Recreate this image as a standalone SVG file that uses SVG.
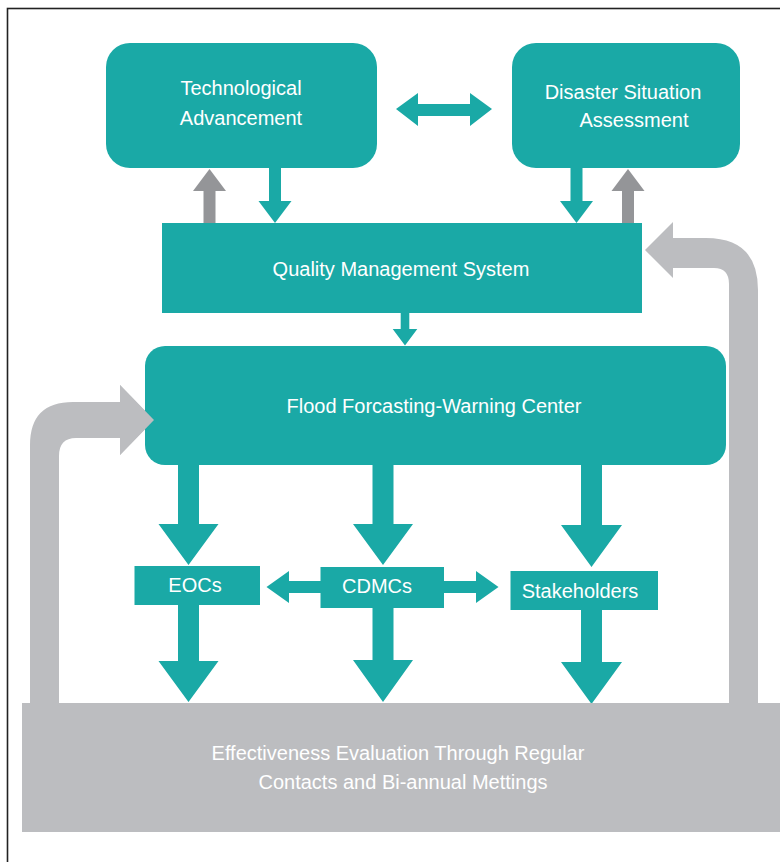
<svg xmlns="http://www.w3.org/2000/svg" width="780" height="862" viewBox="0 0 780 862">
<style>
.teal{fill:#1aa9a6}
.lg{fill:#bcbdc0}
.dg{fill:#949598}
.t{font-family:"Liberation Sans",Arial,sans-serif;font-size:20px;fill:#ffffff;text-anchor:middle}
</style>
<rect x="0" y="0" width="780" height="862" fill="#ffffff"/>
<rect x="7.5" y="8.5" width="790" height="870" fill="none" stroke="#222222" stroke-width="1.6"/>

<g id="connectors">
  <polygon class="teal" points="396,109 418,93 418,104 470,104 470,93 492,109 470,126 470,116 418,116 418,126"/>
  <polygon class="dg" points="203.5,223 203.5,191 193,191 209.5,169 226,191 215.5,191 215.5,223"/>
  <polygon class="dg" points="622,223 622,191 611.5,191 628,169 644.5,191 634,191 634,223"/>
  <polygon class="teal" points="269,167 281,167 281,201 291.5,201 275,223 258.5,201 269,201"/>
  <polygon class="teal" points="570.5,167 582.5,167 582.5,201 593,201 576.5,223 560,201 570.5,201"/>
  <polygon class="teal" points="400.7,312 409.3,312 409.3,329 417.3,329 405,345.5 392.7,329 400.7,329"/>
  <polygon class="teal" points="178,462 199,462 199,524 218.5,524 188.5,565 158.5,524 178,524"/>
  <polygon class="teal" points="372.5,462 393.5,462 393.5,524 413,524 383,565 353,524 372.5,524"/>
  <polygon class="teal" points="581,462 602,462 602,525 622,525 591.5,567 561,525 581,525"/>
  <polygon class="teal" points="322,581 289,581 289,571 266.5,587 289,603 289,593 322,593"/>
  <polygon class="teal" points="443,581 476,581 476,571 498.5,587 476,603 476,593 443,593"/>
  <polygon class="teal" points="178,603 199,603 199,661 218.5,661 188.5,702 158.5,661 178,661"/>
  <polygon class="teal" points="372.5,606 393.5,606 393.5,660 413,660 383,702 353,660 372.5,660"/>
  <polygon class="teal" points="581,608 602,608 602,662 622,662 591.5,704 561,662 581,662"/>
  <path class="lg" d="M30,704 L30,445 Q30,402 73,402 L120,402 L120,385 L154,420 L120,455 L120,438 L76,438 Q59,438 59,456 L59,704 Z"/>
  <path class="lg" d="M758,704 L758,290 Q758,238 706,238 L673,238 L673,222 L645,250 L673,278 L673,268 L714,268 Q729,268 729,284 L729,704 Z"/>
</g>

<g id="tech">
  <rect class="teal" x="106" y="43" width="271" height="125" rx="24" ry="24"/>
  <text class="t" x="241" y="95">Technological</text>
  <text class="t" x="241" y="125">Advancement</text>
</g>
<g id="disaster">
  <rect class="teal" x="512" y="43" width="228" height="125" rx="24" ry="24"/>
  <text class="t" x="623" y="99">Disaster Situation</text>
  <text class="t" x="634" y="127">Assessment</text>
</g>
<g id="qms">
  <rect class="teal" x="162" y="223" width="480" height="90"/>
  <text class="t" x="401" y="276">Quality Management System</text>
</g>
<g id="ffwc">
  <rect class="teal" x="145" y="346" width="581" height="119" rx="20" ry="20"/>
  <text class="t" x="434" y="413">Flood Forcasting-Warning Center</text>
</g>
<g id="eocs">
  <rect class="teal" x="134.5" y="566" width="125.5" height="39"/>
  <text class="t" x="195" y="592">EOCs</text>
</g>
<g id="cdmcs">
  <rect class="teal" x="320.5" y="567" width="123.5" height="41"/>
  <text class="t" x="377" y="593">CDMCs</text>
</g>
<g id="stakeholders">
  <rect class="teal" x="510.5" y="571" width="147.5" height="39"/>
  <text class="t" x="580" y="598">Stakeholders</text>
</g>
<g id="evaluation">
  <rect class="lg" x="22" y="703" width="760" height="129"/>
  <text class="t" x="398" y="760">Effectiveness Evaluation Through Regular</text>
  <text class="t" x="403" y="789">Contacts and Bi-annual Mettings</text>
</g>
<g id="overlay">
  <polygon class="lg" points="120,402 120,385 154,420 120,455 120,438"/>
</g>
</svg>
